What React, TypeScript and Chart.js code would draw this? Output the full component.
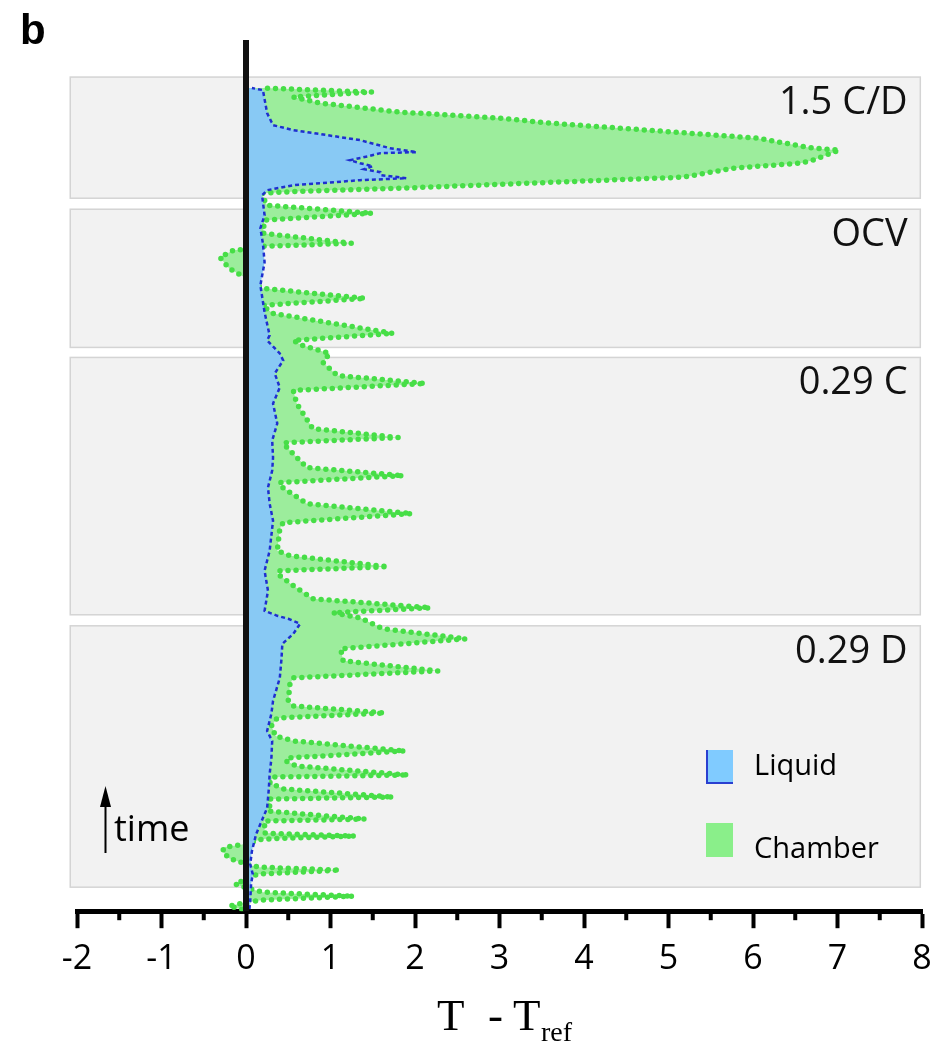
import React, { useEffect, useRef } from 'react';
import { Chart, registerables } from 'chart.js';

Chart.register(...registerables);

// Chamber temperature difference (T - Tref) versus time (arbitrary time units, bottom = start)
const chamberTime = [
  0.0, 0.3, 0.6, 0.9, 1.3, 1.7, 2.1, 2.5, 3.0, 3.5, 3.9, 4.2, 4.5, 5.1, 5.8, 6.2, 6.5,
  7.0, 7.3, 7.6, 8.8, 9.0, 9.8, 10.3, 11.0, 11.2, 12.0, 12.6, 13.2, 13.4, 14.3, 14.8,
  15.1, 15.8, 16.8, 17.3, 18.3, 19.1, 19.6, 20.3, 20.8, 22.5, 23.1, 23.8, 24.8, 26.0,
  27.0, 28.0, 29.1, 29.6, 30.1, 31.0, 32.3, 33.5, 33.8, 34.2, 35.3, 35.8, 38.0, 38.6,
  39.5, 40.5, 42.3, 42.6, 43.3, 44.1, 46.5, 46.6, 47.1, 48.0, 50.5, 51.8, 52.5, 53.3,
  54.6, 55.5, 56.3, 56.8, 57.5, 59.5, 60.3, 61.0, 62.0, 63.0, 64.0, 65.1, 65.8, 65.9,
  66.2, 66.5, 67.5, 68.8, 69.5, 70.3, 71.3, 71.5, 71.7, 72.0, 73.1, 74.0, 74.5, 74.8,
  75.8, 76.0, 77.0, 78.5, 79.0, 79.6, 80.5, 81.1, 81.6, 82.0,
];
const chamberDelta = [
  -0.05, -0.2, -0.05, 0.17, 1.27, 0.2, 0.02, -0.13, 0.0, 0.14, 1.11, 0.16, 0.0, -0.2, -0.28, -0.25, 0.0,
  0.19, 1.29, 0.22, 0.22, 1.41, 0.26, 0.28, 0.28, 1.74, 0.45, 0.28, 0.32, 1.92, 0.6, 0.47,
  0.5, 1.88, 0.56, 0.35, 0.3, 0.37, 1.64, 0.56, 0.5, 0.52, 0.56, 2.27, 1.15, 1.12,
  2.6, 1.62, 1.35, 1.03, 2.18, 0.79, 0.56, 0.37, 0.4, 1.68, 0.52, 0.37, 0.4, 0.44,
  1.96, 0.72, 0.4, 0.4, 1.86, 0.72, 0.44, 0.49, 1.8, 0.79, 0.6, 0.56, 2.12, 1.08,
  0.91, 0.99, 0.67, 0.56, 1.74, 0.32, 0.19, 1.41, 0.19, 0.0, -0.2, -0.31, -0.15, 0.0,
  0.22, 1.25, 0.2, 0.22, 1.49, 0.25, 0.19, 0.2, 0.64, 1.83, 5.17, 5.77, 6.56, 6.71,
  7.02, 6.71, 6.05, 3.6, 3.0, 1.82, 0.88, 0.56, 1.49, 0.2,
];

// Liquid temperature difference versus time
const liquidTime = [
  0.0, 0.8, 2.5, 3.5, 4.5, 5.8, 7.5, 8.5, 10.1, 12.0, 13.5, 15.0, 16.8, 17.8, 19.5, 20.8,
  23.1, 25.0, 26.5, 27.5, 28.5, 29.0, 29.3, 29.8, 31.8, 33.8, 35.8, 38.8, 40.5, 42.1,
  43.8, 45.1, 46.8, 48.5, 50.5, 52.1, 53.5, 54.8, 55.5, 56.8, 57.3, 59.6, 62.3, 64.6,
  66.5, 68.0, 69.3, 71.3, 71.8, 72.3, 72.8, 73.0, 73.3, 73.6, 73.9, 74.2, 74.5, 74.8,
  75.2, 75.5, 75.6, 76.0, 76.8, 77.3, 77.8, 78.3, 79.5, 81.8, 82.0,
];
const liquidDelta = [
  0.04, 0.05, 0.06, 0.08, 0.05, 0.07, 0.12, 0.17, 0.25, 0.27, 0.28, 0.3, 0.31, 0.25, 0.3, 0.32,
  0.4, 0.42, 0.43, 0.56, 0.64, 0.5, 0.37, 0.22, 0.26, 0.22, 0.28, 0.32, 0.28, 0.26,
  0.31, 0.32, 0.31, 0.37, 0.32, 0.4, 0.34, 0.44, 0.4, 0.25, 0.28, 0.22, 0.17, 0.22,
  0.2, 0.17, 0.22, 0.19, 0.25, 0.56, 1.35, 1.9, 1.6, 1.59, 1.4, 1.5, 1.35, 1.23,
  1.45, 1.59, 2.02, 1.7, 1.35, 0.96, 0.56, 0.32, 0.25, 0.2, 0.07,
];

const xTickValues = [-2, -1, 0, 1, 2, 3, 4, 5, 6, 7, 8];

// Experimental regimes (time windows, same units as the time arrays)
const regimeNames = ['1.5 C/D', 'OCV', '0.29 C', '0.29 D'];
const regimeStart = [71.0, 56.1, 29.4, 2.2];
const regimeEnd = [83.1, 69.9, 55.1, 28.3];

const decorPlugin = {
  id: 'decor',
  beforeDatasetsDraw(chart: any) {
    const { ctx, scales } = chart;
    const x = scales.x;
    const y = scales.y;
    ctx.save();
    const left = x.getPixelForValue(-2.08);
    const right = x.getPixelForValue(7.98);
    regimeNames.forEach((name, i) => {
      const y1 = y.getPixelForValue(regimeEnd[i]);
      const y2 = y.getPixelForValue(regimeStart[i]);
      ctx.fillStyle = '#f2f2f2';
      ctx.fillRect(left, y1, right - left, y2 - y1);
      ctx.strokeStyle = '#d4d4d4';
      ctx.lineWidth = 1.5;
      ctx.strokeRect(left, y1, right - left, y2 - y1);
      ctx.fillStyle = '#111111';
      ctx.font = '38px "Open Sans"';
      ctx.textAlign = 'right';
      ctx.textBaseline = 'middle';
      ctx.fillText(name, x.getPixelForValue(7.83), y.getPixelForValue(regimeEnd[i] - 2.6));
    });
    ctx.restore();
  },
  afterDatasetsDraw(chart: any) {
    const { ctx, scales, chartArea } = chart;
    const x = scales.x;
    ctx.save();
    ctx.fillStyle = '#111111';
    const x0 = x.getPixelForValue(0);
    ctx.fillRect(x0 - 3, chartArea.top, 6, chartArea.bottom - chartArea.top);
    // minor ticks at half units
    ctx.fillStyle = '#000000';
    for (let i = 0; i < xTickValues.length - 1; i++) {
      const mid = (xTickValues[i] + xTickValues[i + 1]) / 2;
      const px = x.getPixelForValue(mid);
      ctx.fillRect(px - 2, chartArea.bottom, 4, 9);
    }
    ctx.restore();
  },
};

export default function App() {
  const canvasRef = useRef<HTMLCanvasElement | null>(null);

  useEffect(() => {
    if (!canvasRef.current) return;
    const chart = new Chart(canvasRef.current, {
      type: 'line',
      data: {
        datasets: [
          {
            label: 'Liquid',
            data: liquidTime.map((t, i) => ({ x: liquidDelta[i], y: t })),
            borderColor: '#1f2fcf',
            borderWidth: 2.5,
            borderDash: [4, 3],
            backgroundColor: '#88c9f4',
            fill: { value: 0 },
            pointRadius: 0,
            tension: 0,
          },
          {
            label: 'Chamber',
            data: chamberTime.map((t, i) => ({ x: chamberDelta[i], y: t })),
            borderColor: '#47de47',
            borderWidth: 5.5,
            borderDash: [0, 8],
            borderCapStyle: 'round',
            backgroundColor: '#9ced9c',
            fill: { value: 0 },
            pointRadius: 0,
            tension: 0,
          },
        ],
      },
      options: {
        indexAxis: 'y',
        animation: false,
        responsive: false,
        maintainAspectRatio: false,
        layout: { padding: { left: 77, right: 28, top: 40, bottom: 60 } },
        plugins: {
          legend: { display: false },
          tooltip: { enabled: false },
          title: { display: false },
        },
        scales: {
          x: {
            type: 'linear',
            min: -2,
            max: 8,
            afterBuildTicks: (scale: any) => {
              scale.ticks = xTickValues.map((v) => ({ value: v }));
            },
            ticks: {
              color: '#000000',
              font: { family: '"Open Sans"', size: 34 },
              padding: 11,
              maxRotation: 0,
              autoSkip: false,
              callback: (v: any) => String(v),
            },
            grid: {
              display: true,
              drawOnChartArea: false,
              drawTicks: true,
              tickLength: 17,
              tickWidth: 4,
              tickColor: '#000000',
            },
            border: { display: true, color: '#000000', width: 5 },
          },
          y: {
            type: 'linear',
            display: false,
            min: -0.2,
            max: 86.8,
          },
        },
      } as any,
      plugins: [decorPlugin],
    });
    return () => chart.destroy();
  }, []);

  return (
    <div style={{ position: 'absolute', left: 0, top: 0, width: 950, height: 1051, background: '#ffffff' }}>
      <canvas ref={canvasRef} width={950} height={1051} style={{ position: 'absolute', left: 0, top: 0 }} />
      <div style={{ position: 'absolute', left: 20, top: 9, font: 'bold 42px "Liberation Sans", Arial, sans-serif', lineHeight: 1, color: '#000' }}>b</div>

      {/* legend */}
      <div style={{ position: 'absolute', left: 706, top: 750, width: 25, height: 32, background: '#80cbff', borderLeft: '2px solid #2a3fd0', borderBottom: '2px solid #2a3fd0' }} />
      <div style={{ position: 'absolute', left: 754, top: 749, font: '29px "Open Sans", sans-serif', lineHeight: 1, color: '#000' }}>Liquid</div>
      <div style={{ position: 'absolute', left: 706, top: 823, width: 27, height: 34, background: '#8aef8a' }} />
      <div style={{ position: 'absolute', left: 754, top: 832, font: '29px "Open Sans", sans-serif', lineHeight: 1, color: '#000' }}>Chamber</div>

      {/* time arrow */}
      <svg style={{ position: 'absolute', left: 95, top: 780 }} width={22} height={80}>
        <line x1={10.5} y1={22} x2={10.5} y2={73} stroke="#000" strokeWidth={2} />
        <polygon points="10.5,6 5,27 16,27" fill="#000" />
      </svg>
      <div style={{ position: 'absolute', left: 114, top: 810, font: '36px "Open Sans", sans-serif', lineHeight: 1, color: '#000' }}>time</div>

      {/* axis title */}
      <div style={{ position: 'absolute', left: 437, top: 993, font: '45px "Liberation Serif", serif', lineHeight: 1, color: '#000' }}>T</div>
      <div style={{ position: 'absolute', left: 488, top: 993, font: '45px "Liberation Serif", serif', lineHeight: 1, color: '#000' }}>-</div>
      <div style={{ position: 'absolute', left: 513, top: 993, font: '45px "Liberation Serif", serif', lineHeight: 1, color: '#000' }}>T</div>
      <div style={{ position: 'absolute', left: 541, top: 1018, font: '28px "Liberation Serif", serif', lineHeight: 1, color: '#000' }}>ref</div>
    </div>
  );
}
